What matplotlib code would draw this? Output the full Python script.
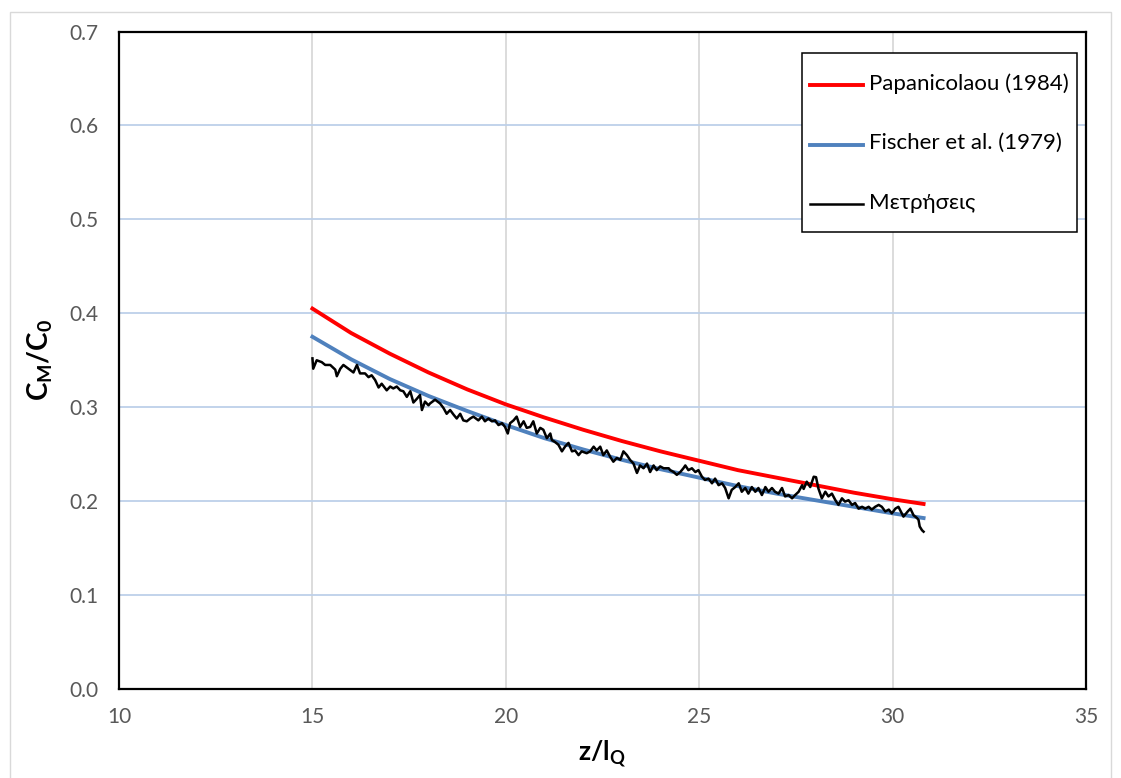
import matplotlib
matplotlib.use('Agg')
import matplotlib.pyplot as plt
from matplotlib.patches import Rectangle
from matplotlib.legend_handler import HandlerLine2D

plt.rcParams['font.family'] = ['Lato', 'DejaVu Sans']
plt.rcParams['mathtext.fontset'] = 'custom'
plt.rcParams['mathtext.rm'] = 'Lato:bold'
plt.rcParams['mathtext.it'] = 'Lato:bold'
plt.rcParams['mathtext.bf'] = 'Lato:bold'

# Theoretical centreline dilution curves
z_theory = [15, 16, 17, 18, 19, 20, 21, 22, 23, 24, 25, 26, 27, 28, 29, 30, 30.8]
c_papanicolaou = [0.405, 0.379, 0.357, 0.337, 0.319, 0.303, 0.289, 0.276, 0.264,
                  0.253, 0.243, 0.233, 0.225, 0.217, 0.209, 0.202, 0.197]
c_fischer = [0.375, 0.351, 0.330, 0.312, 0.296, 0.281, 0.267, 0.255, 0.244,
             0.234, 0.225, 0.216, 0.208, 0.201, 0.194, 0.187, 0.182]

# Measured centreline concentration
z_meas = [15.00, 15.02, 15.11, 15.24, 15.33, 15.46, 15.59, 15.63, 15.72, 15.80,
          15.93, 16.06, 16.15, 16.23, 16.36, 16.45, 16.53, 16.62, 16.71, 16.79,
          16.92, 17.01, 17.09, 17.18, 17.27, 17.35, 17.44, 17.53, 17.61, 17.70,
          17.78, 17.83, 17.91, 18.00, 18.04, 18.17, 18.30, 18.39, 18.47, 18.56,
          18.65, 18.73, 18.82, 18.90, 18.99, 19.08, 19.16, 19.29, 19.38, 19.46,
          19.55, 19.64, 19.72, 19.81, 19.90, 19.98, 20.05, 20.11, 20.20, 20.28,
          20.37, 20.46, 20.54, 20.63, 20.71, 20.80, 20.89, 20.97, 21.06, 21.15,
          21.19, 21.27, 21.36, 21.45, 21.53, 21.62, 21.71, 21.79, 21.88, 21.96,
          22.09, 22.18, 22.27, 22.35, 22.44, 22.52, 22.61, 22.70, 22.78, 22.87,
          22.96, 23.04, 23.13, 23.21, 23.30, 23.39, 23.47, 23.56, 23.65, 23.73,
          23.82, 23.90, 23.99, 24.08, 24.21, 24.25, 24.34, 24.42, 24.51, 24.59,
          24.64, 24.72, 24.81, 24.90, 24.98, 25.07, 25.15, 25.24, 25.33, 25.41,
          25.50, 25.59, 25.67, 25.76, 25.84, 25.93, 26.02, 26.10, 26.19, 26.27,
          26.36, 26.45, 26.53, 26.62, 26.71, 26.79, 26.88, 26.96, 27.05, 27.14,
          27.22, 27.31, 27.40, 27.48, 27.57, 27.66, 27.70, 27.78, 27.87, 27.96,
          28.02, 28.08, 28.17, 28.26, 28.34, 28.43, 28.52, 28.60, 28.69, 28.77,
          28.86, 28.95, 29.03, 29.12, 29.21, 29.29, 29.38, 29.46, 29.55, 29.64,
          29.72, 29.81, 29.90, 29.98, 30.07, 30.15, 30.28, 30.39, 30.46, 30.54,
          30.63, 30.67, 30.70, 30.76, 30.80]
c_meas = [0.352, 0.341, 0.350, 0.348, 0.345, 0.345, 0.340, 0.333, 0.341, 0.345,
          0.341, 0.337, 0.345, 0.336, 0.336, 0.332, 0.334, 0.329, 0.321, 0.325,
          0.318, 0.322, 0.320, 0.322, 0.318, 0.317, 0.311, 0.317, 0.305, 0.309,
          0.313, 0.297, 0.306, 0.302, 0.304, 0.308, 0.304, 0.299, 0.293, 0.297,
          0.292, 0.288, 0.293, 0.286, 0.285, 0.288, 0.290, 0.286, 0.290, 0.285,
          0.288, 0.285, 0.286, 0.281, 0.283, 0.279, 0.272, 0.283, 0.286, 0.290,
          0.279, 0.285, 0.278, 0.279, 0.285, 0.272, 0.278, 0.276, 0.267, 0.272,
          0.265, 0.263, 0.260, 0.253, 0.258, 0.262, 0.253, 0.254, 0.249, 0.253,
          0.251, 0.253, 0.258, 0.254, 0.258, 0.249, 0.254, 0.247, 0.242, 0.246,
          0.244, 0.253, 0.249, 0.244, 0.240, 0.230, 0.238, 0.235, 0.240, 0.231,
          0.238, 0.233, 0.237, 0.235, 0.235, 0.233, 0.231, 0.228, 0.231, 0.235,
          0.238, 0.233, 0.235, 0.231, 0.233, 0.226, 0.2225, 0.224, 0.219, 0.224,
          0.217, 0.219, 0.214, 0.203, 0.212, 0.215, 0.219, 0.210, 0.214, 0.208,
          0.215, 0.210, 0.214, 0.2065, 0.215, 0.210, 0.214, 0.210, 0.208, 0.214,
          0.205, 0.2065, 0.203, 0.2065, 0.210, 0.217, 0.213, 0.2207, 0.215, 0.226,
          0.2255, 0.2136, 0.203, 0.210, 0.205, 0.208, 0.201, 0.196, 0.203, 0.1995,
          0.201, 0.196, 0.198, 0.192, 0.194, 0.192, 0.194, 0.191, 0.194, 0.196,
          0.194, 0.189, 0.191, 0.187, 0.192, 0.194, 0.1835, 0.189, 0.192, 0.185,
          0.182, 0.180, 0.173, 0.169, 0.1675]

x_ticks = [10, 15, 20, 25, 30, 35]
y_ticks = [0.0, 0.1, 0.2, 0.3, 0.4, 0.5, 0.6, 0.7]


class CenteredLine(HandlerLine2D):
    """Legend line dropped so it sits level with the label text."""

    def create_artists(self, legend, orig_handle, xdescent, ydescent,
                       width, height, fontsize, trans):
        return super().create_artists(legend, orig_handle, xdescent,
                                      ydescent + 14.0, width, height,
                                      fontsize, trans)


fig = plt.figure(figsize=(11.21, 7.78), dpi=100)
ax = fig.add_axes([0.1062, 0.1144, 0.8626, 0.8451])

# light outer chart border
fig.patches.append(Rectangle((0.0089, -0.05), 0.982, 1.0346, transform=fig.transFigure,
                             fill=False, edgecolor='#D9D9D9', linewidth=1.0))

ax.plot(z_theory, c_papanicolaou, color='#FF0000', linewidth=2.8,
        label='Papanicolaou (1984)', zorder=3)
ax.plot(z_theory, c_fischer, color='#4F81BD', linewidth=2.8,
        label='Fischer et al. (1979)', zorder=3)
ax.plot(z_meas, c_meas, color='black', linewidth=1.8,
        label='Μετρήσεις', zorder=4)

ax.set_xlim(10, 35)
ax.set_ylim(0, 0.7)
ax.set_xticks(x_ticks)
ax.set_yticks(y_ticks)
ax.set_xticklabels([str(t) for t in x_ticks])
ax.set_yticklabels([f'{t:.1f}' for t in y_ticks])
ax.tick_params(axis='both', length=0, labelsize=15, labelcolor='#595959')
ax.tick_params(axis='y', pad=15)
ax.tick_params(axis='x', pad=13)

# vertical gridlines grey, horizontal ones pale blue
for xv in x_ticks[1:-1]:
    ax.axvline(xv, color='#D9D9D9', linewidth=1.3, zorder=1)
for yv in y_ticks[1:-1]:
    ax.axhline(yv, color='#BDD0E9', linewidth=1.3, zorder=1)

for sp in ax.spines.values():
    sp.set_color('black')
    sp.set_linewidth(1.6)

ax.set_xlabel(r'$\mathrm{z/l_Q}$', fontsize=19, labelpad=8)
ax.set_ylabel(r'$\mathrm{C_M/C_0}$', fontsize=20, labelpad=10)

leg = ax.legend(loc='upper right', bbox_to_anchor=(0.9907, 0.967), borderaxespad=0,
                fontsize=16, frameon=True, fancybox=False, handlelength=2.4,
                handleheight=2.66, handletextpad=0.27, labelspacing=0.7,
                borderpad=0.36, handler_map={matplotlib.lines.Line2D: CenteredLine()})
leg.get_frame().set_edgecolor('black')
leg.get_frame().set_linewidth(1.1)
leg.get_frame().set_alpha(1)

fig.savefig('out.png', dpi=100)
